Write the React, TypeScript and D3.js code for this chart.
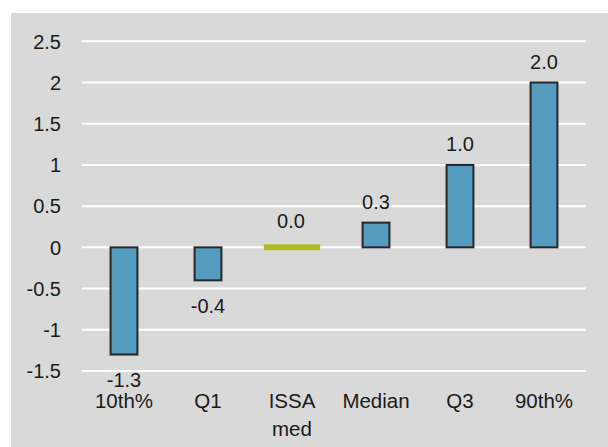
import React from "react";
import * as d3 from "d3";

const categories = ["10th%", "Q1", "ISSA med", "Median", "Q3", "90th%"];
const values = [-1.3, -0.4, 0.0, 0.3, 1.0, 2.0];
const valueLabels = ["-1.3", "-0.4", "0.0", "0.3", "1.0", "2.0"];
const highlight = ["ISSA med"];
const yTicks = [-1.5, -1, -0.5, 0, 0.5, 1, 1.5, 2, 2.5];

const W = 608;
const H = 447;
const FONT = "'Liberation Sans', Arial, sans-serif";

export default function App() {
  const x = d3.scaleBand<string>().domain(categories).range([82, 586]).paddingInner(0.68).paddingOuter(0.34);
  const xWide = d3.scaleBand<string>().domain(categories).range([82, 586]).paddingInner(0.33).paddingOuter(0.165);
  const y = d3.scaleLinear().domain([-1.5, 2.5]).range([371, 41.3]);

  return (
    <svg width={W} height={H} style={{ position: "absolute", left: 0, top: 0 }} fontFamily={FONT}>
      <rect x={11} y={13} width={W - 11} height={H - 13} fill="#d9d9d9" />
      {yTicks.map((t) => (
        <g key={t}>
          <line x1={82} x2={586} y1={y(t)} y2={y(t)} stroke="#ffffff" strokeWidth={2} />
          <text x={61} y={y(t)} dy="0.36em" textAnchor="end" fontSize={20} fill="#1a1a1a">
            {String(t)}
          </text>
        </g>
      ))}
      {categories.map((c, i) => {
        const v = values[i];
        const cx = (x(c) as number) + x.bandwidth() / 2;
        if (highlight.includes(c)) {
          return (
            <g key={c}>
              <line x1={xWide(c) as number} x2={(xWide(c) as number) + xWide.bandwidth()} y1={y(v)} y2={y(v)} stroke="#afbd22" strokeWidth={6} />
              <text x={cx - 1} y={y(v) - 19} textAnchor="middle" fontSize={20} fill="#1a1a1a">
                {valueLabels[i]}
              </text>
            </g>
          );
        }
        const top = y(Math.max(0, v));
        const bottom = y(Math.min(0, v));
        return (
          <g key={c}>
            <rect x={x(c) as number} y={top} width={x.bandwidth()} height={bottom - top} fill="#559abf" stroke="#262626" strokeWidth={2} />
            <text x={cx} y={v >= 0 ? top - 14 : bottom + 32.5} textAnchor="middle" fontSize={20} fill="#1a1a1a">
              {valueLabels[i]}
            </text>
          </g>
        );
      })}
      {categories.map((c) => {
        const cx = (x(c) as number) + x.bandwidth() / 2;
        const lines = c.split(" ");
        return (
          <text key={"l" + c} x={cx} y={408} textAnchor="middle" fontSize={20.5} fill="#1a1a1a">
            {lines.map((l, k) => (
              <tspan key={k} x={cx} dy={k === 0 ? 0 : 27.5}>
                {l}
              </tspan>
            ))}
          </text>
        );
      })}
    </svg>
  );
}
